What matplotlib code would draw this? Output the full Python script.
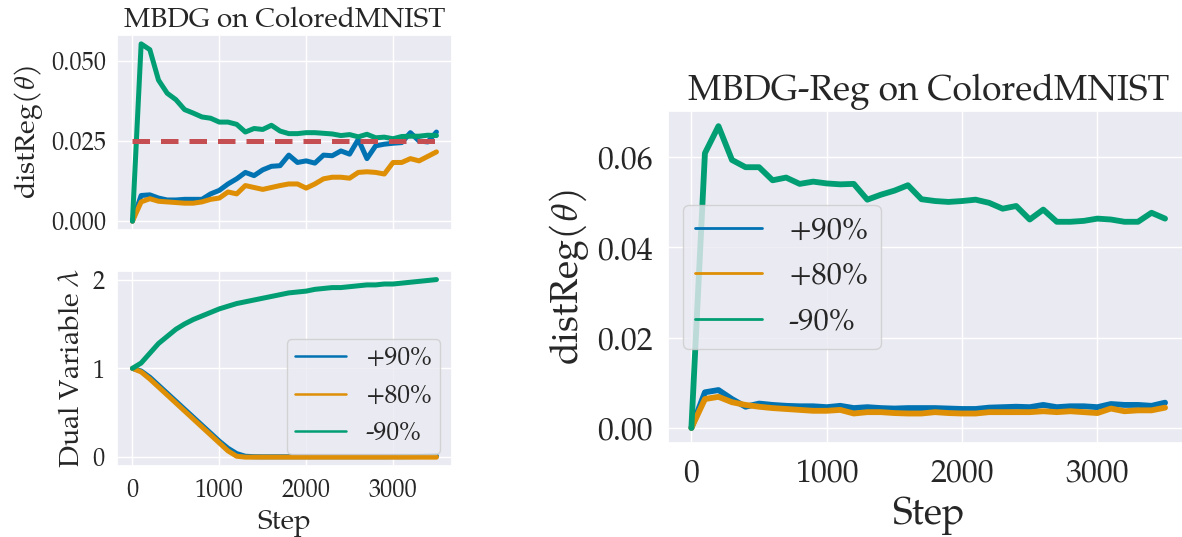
import matplotlib
matplotlib.use("Agg")
import matplotlib.pyplot as plt
from matplotlib import font_manager
from matplotlib.lines import Line2D
import seaborn as sns

steps = list(range(0, 3600, 100))
labels = ["+90%", "+80%", "-90%"]

# MBDG distReg
mbdg_p90 = [0.0, 0.0080, 0.0082, 0.0072, 0.0066, 0.0066, 0.0068, 0.0068, 0.0068, 0.0085,
            0.0096, 0.0116, 0.0132, 0.0152, 0.0142, 0.0160, 0.0171, 0.0173, 0.0206, 0.0183,
            0.0188, 0.0181, 0.0206, 0.0204, 0.0219, 0.0209, 0.0255, 0.0195, 0.0235, 0.0240,
            0.0243, 0.0245, 0.0276, 0.0250, 0.0247, 0.0278]
mbdg_p80 = [0.0, 0.0060, 0.0070, 0.0062, 0.0060, 0.0058, 0.0056, 0.0056, 0.0060, 0.0068,
            0.0072, 0.0091, 0.0085, 0.0111, 0.0105, 0.0099, 0.0105, 0.0111, 0.0116, 0.0116,
            0.0103, 0.0116, 0.0132, 0.0137, 0.0137, 0.0134, 0.0152, 0.0154, 0.0152, 0.0147,
            0.0183, 0.0183, 0.0195, 0.0188, 0.0202, 0.0216]
mbdg_m90 = [0.0, 0.0553, 0.0535, 0.0440, 0.0399, 0.0379, 0.0348, 0.0337, 0.0325, 0.0321,
            0.0309, 0.0309, 0.0302, 0.0278, 0.0289, 0.0286, 0.0299, 0.0281, 0.0273, 0.0273,
            0.0276, 0.0276, 0.0274, 0.0272, 0.0267, 0.0270, 0.0263, 0.0271, 0.0260, 0.0262,
            0.0257, 0.0264, 0.0265, 0.0265, 0.0268, 0.0267]
margin = 0.025

# Dual variable lambda
lam_p90 = [1.00, 0.97, 0.90, 0.81, 0.72, 0.63, 0.54, 0.45, 0.36, 0.27,
           0.18, 0.10, 0.04, 0.01, 0.005, 0.004, 0.004, 0.004, 0.004, 0.004,
           0.004, 0.004, 0.004, 0.004, 0.004, 0.004, 0.004, 0.004, 0.004, 0.004,
           0.005, 0.005, 0.006, 0.007, 0.009, 0.012]
lam_p80 = [1.00, 0.96, 0.88, 0.79, 0.70, 0.61, 0.52, 0.43, 0.34, 0.25,
           0.16, 0.07, 0.01, 0.0, 0.0, 0.0, 0.0, 0.0, 0.0, 0.0,
           0.0, 0.0, 0.0, 0.0, 0.0, 0.0, 0.0, 0.0, 0.0, 0.0,
           0.0, 0.0, 0.0, 0.0, 0.0, 0.0]
lam_m90 = [1.00, 1.06, 1.17, 1.28, 1.36, 1.44, 1.50, 1.55, 1.59, 1.63,
           1.67, 1.70, 1.73, 1.75, 1.77, 1.79, 1.81, 1.83, 1.85, 1.86,
           1.87, 1.89, 1.90, 1.91, 1.91, 1.92, 1.93, 1.94, 1.94, 1.95,
           1.95, 1.96, 1.97, 1.98, 1.99, 2.00]

# MBDG-Reg distReg
reg_p90 = [0.0, 0.0079, 0.0084, 0.0064, 0.0047, 0.0054, 0.0051, 0.0049, 0.0048, 0.0048,
           0.0046, 0.0049, 0.0044, 0.0046, 0.0044, 0.0043, 0.0044, 0.0044, 0.0044, 0.0043,
           0.0042, 0.0042, 0.0045, 0.0046, 0.0047, 0.0046, 0.0051, 0.0046, 0.0048, 0.0048,
           0.0046, 0.0053, 0.0051, 0.0051, 0.0049, 0.0056]
reg_p80 = [0.0, 0.0064, 0.0069, 0.0057, 0.0051, 0.0047, 0.0044, 0.0042, 0.0040, 0.0038,
           0.0038, 0.0040, 0.0032, 0.0035, 0.0035, 0.0033, 0.0032, 0.0032, 0.0035, 0.0033,
           0.0032, 0.0032, 0.0035, 0.0035, 0.0035, 0.0035, 0.0037, 0.0035, 0.0037, 0.0035,
           0.0033, 0.0043, 0.0037, 0.0039, 0.0039, 0.0045]
reg_m90 = [0.0, 0.0609, 0.0669, 0.0594, 0.0578, 0.0578, 0.0549, 0.0555, 0.0541, 0.0546,
           0.0542, 0.0540, 0.0541, 0.0506, 0.0517, 0.0526, 0.0538, 0.0507, 0.0503, 0.0501,
           0.0503, 0.0506, 0.0499, 0.0486, 0.0492, 0.0462, 0.0484, 0.0457, 0.0457, 0.0459,
           0.0464, 0.0462, 0.0457, 0.0457, 0.0477, 0.0464]

sns.set_theme(style="darkgrid")
names = {f.name for f in font_manager.fontManager.ttflist}
serif = "Liberation Serif"
for cand in ["TeX Gyre Pagella", "P052", "URW Palladio L", "Palatino", "Palatino Linotype",
             "Liberation Serif"]:
    if cand in names:
        serif = cand
        break
plt.rcParams["font.family"] = [serif, "DejaVu Serif"]
plt.rcParams["mathtext.fontset"] = "custom"
plt.rcParams["mathtext.rm"] = serif
plt.rcParams["mathtext.it"] = serif + ":italic"

colors = ["#0173B2", "#DE8F05", "#029E73"]
red = "#C44E52"
lw = 3.6

fig = plt.figure(figsize=(11.82, 5.37), dpi=100)
ax1 = fig.add_axes([0.0992, 0.5717, 0.2829, 0.3631])
ax2 = fig.add_axes([0.0992, 0.1322, 0.2829, 0.3637])
ax3 = fig.add_axes([0.5649, 0.1750, 0.4408, 0.6182])

xt = [0, 1000, 2000, 3000]

# top left
for ys, c in zip([mbdg_p90, mbdg_p80, mbdg_m90], colors):
    ax1.plot(steps, ys, color=c, lw=lw)
ax1.plot([steps[0], steps[-1]], [margin, margin], color=red, lw=lw, ls=(0, (3.5, 2.2)))
ax1.set_xticks(xt)
ax1.set_xticklabels([])
ax1.set_yticks([0.0, 0.025, 0.05])
ax1.set_yticklabels(["0.000", "0.025", "0.050"])
ax1.tick_params(labelsize=17.5, pad=2)
ax1.set_ylabel(r"distReg($\theta$)", fontsize=20.5, labelpad=4)
ax1.set_title("MBDG on ColoredMNIST", fontsize=20, pad=6)

# bottom left
for ys, c in zip([lam_p90, lam_p80, lam_m90], colors):
    ax2.plot(steps, ys, color=c, lw=lw)
ax2.set_xticks(xt)
ax2.set_yticks([0, 1, 2])
ax2.tick_params(labelsize=17.5, pad=3)
ax2.set_ylabel(r"Dual Variable $\lambda$", fontsize=20.5, labelpad=4)
ax2.set_xlabel("Step", fontsize=20, labelpad=3)
handles = [Line2D([0], [0], color=c, lw=1.8) for c in colors]
ax2.legend(handles, labels, loc="lower right", fontsize=18.5, borderaxespad=0.45,
           handlelength=2.0, handletextpad=0.75, labelspacing=0.45, borderpad=0.3)

# right
for ys, c in zip([reg_p90, reg_p80, reg_m90], colors):
    ax3.plot(steps, ys, color=c, lw=lw + 0.6)
ax3.set_xticks(xt)
ax3.set_yticks([0.0, 0.02, 0.04, 0.06])
ax3.set_yticklabels(["0.00", "0.02", "0.04", "0.06"])
ax3.tick_params(labelsize=23, pad=5)
ax3.set_ylabel(r"distReg($\theta$)", fontsize=27, labelpad=4)
ax3.set_xlabel("Step", fontsize=27, labelpad=4)
ax3.set_title("MBDG-Reg on ColoredMNIST", fontsize=25.5, pad=8)
handles3 = [Line2D([0], [0], color=c, lw=2.0) for c in colors]
ax3.legend(handles3, labels, loc="center left", fontsize=22, borderaxespad=0.5,
           handlelength=2.2, handletextpad=0.85, labelspacing=0.5)

fig.savefig("out.png", dpi=100)
